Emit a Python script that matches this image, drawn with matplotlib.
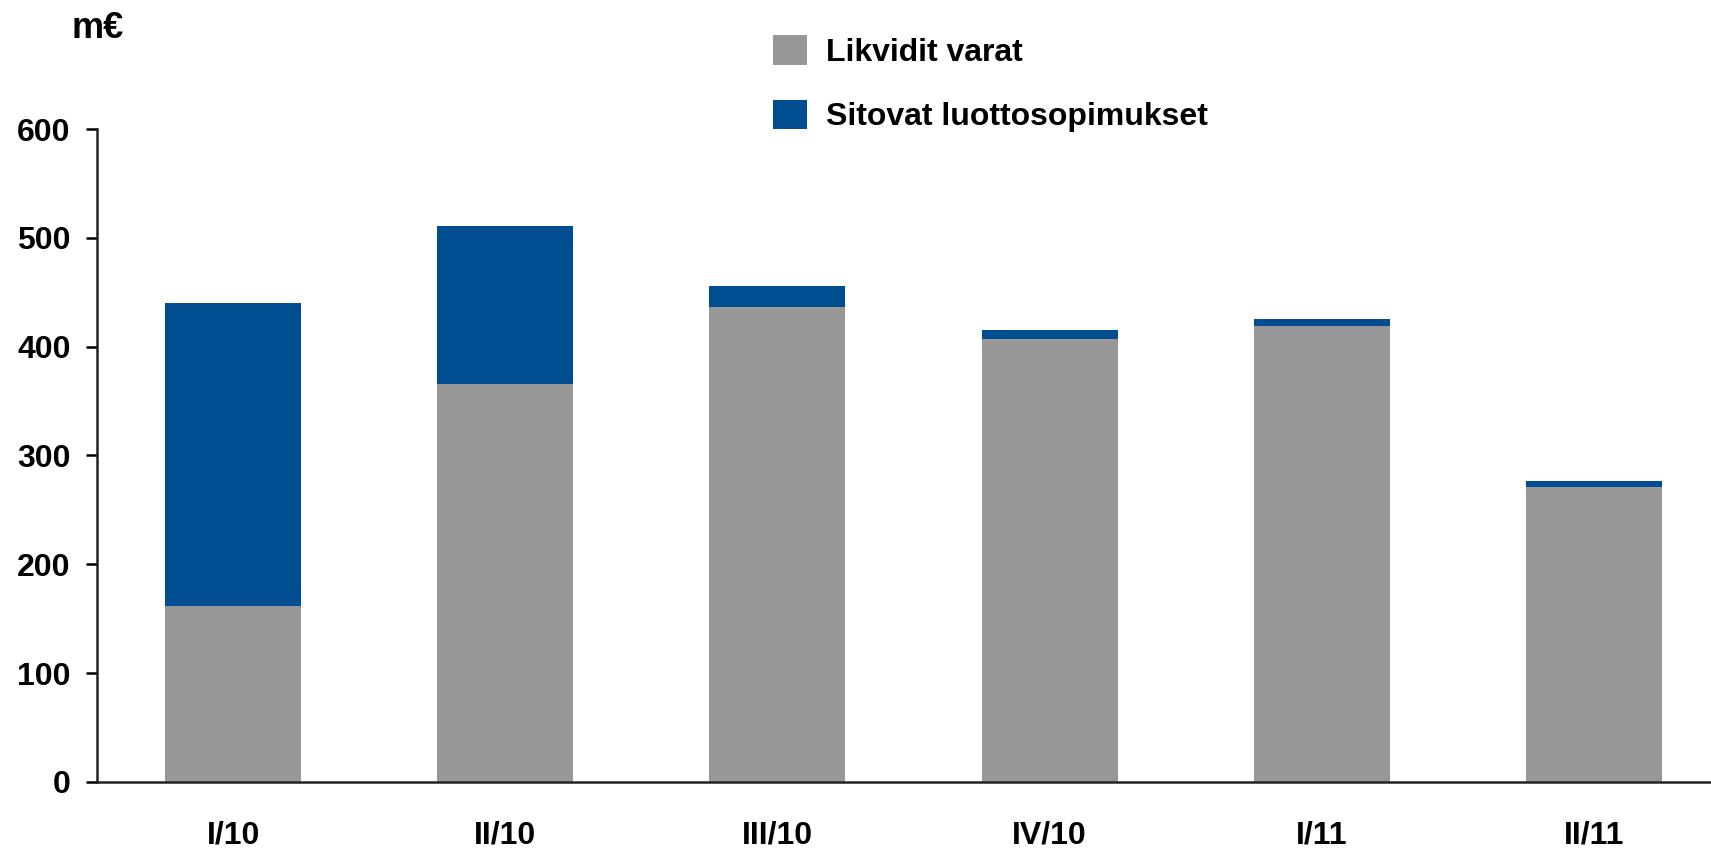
import matplotlib.pyplot as plt
import numpy as np

# Data (m€)
kvartaalit = ['I/10', 'II/10', 'III/10', 'IV/10', 'I/11', 'II/11']
likvidit_varat = [162, 366, 436, 407, 419, 271]
sitovat_luotot = [278, 145, 20, 8, 6, 6]

harmaa = '#979797'
sininen = '#004D92'

plt.rcParams['font.family'] = ['Liberation Sans', 'DejaVu Sans']
plt.rcParams['font.weight'] = 'bold'

fig = plt.figure(figsize=(17.11, 8.51), dpi=100)
ax = fig.add_axes([0.0567, 0.0811, 0.9433, 0.7673])

x = np.arange(len(kvartaalit))
ax.bar(x, likvidit_varat, width=0.5, color=harmaa, label='Likvidit varat')
ax.bar(x, sitovat_luotot, width=0.5, bottom=likvidit_varat, color=sininen,
       label='Sitovat luottosopimukset')

ax.set_xlim(-0.5, 5.43)
ax.set_ylim(0, 600)
ax.set_yticks(range(0, 601, 100))
ax.set_xticks(x)
ax.set_xticklabels(kvartaalit)

for s in ['top', 'right']:
    ax.spines[s].set_visible(False)
for s in ['left', 'bottom']:
    ax.spines[s].set_linewidth(1.8)
    ax.spines[s].set_color('#222222')

ax.tick_params(axis='y', length=8, width=1.8, labelsize=23, pad=11)
ax.tick_params(axis='x', length=0, labelsize=23, pad=28)

fig.text(72 / 1711, 1 - 29 / 851, 'm€', fontsize=26, fontweight='bold',
         va='center', ha='left')

fig.legend(loc='upper left', bbox_to_anchor=(773 / 1711, 1 - 35 / 851),
           frameon=False, fontsize=23, handlelength=1.05, handleheight=1.05,
           handletextpad=0.6, labelspacing=1.0, borderpad=0, borderaxespad=0)

fig.savefig('out.png', dpi=100)
